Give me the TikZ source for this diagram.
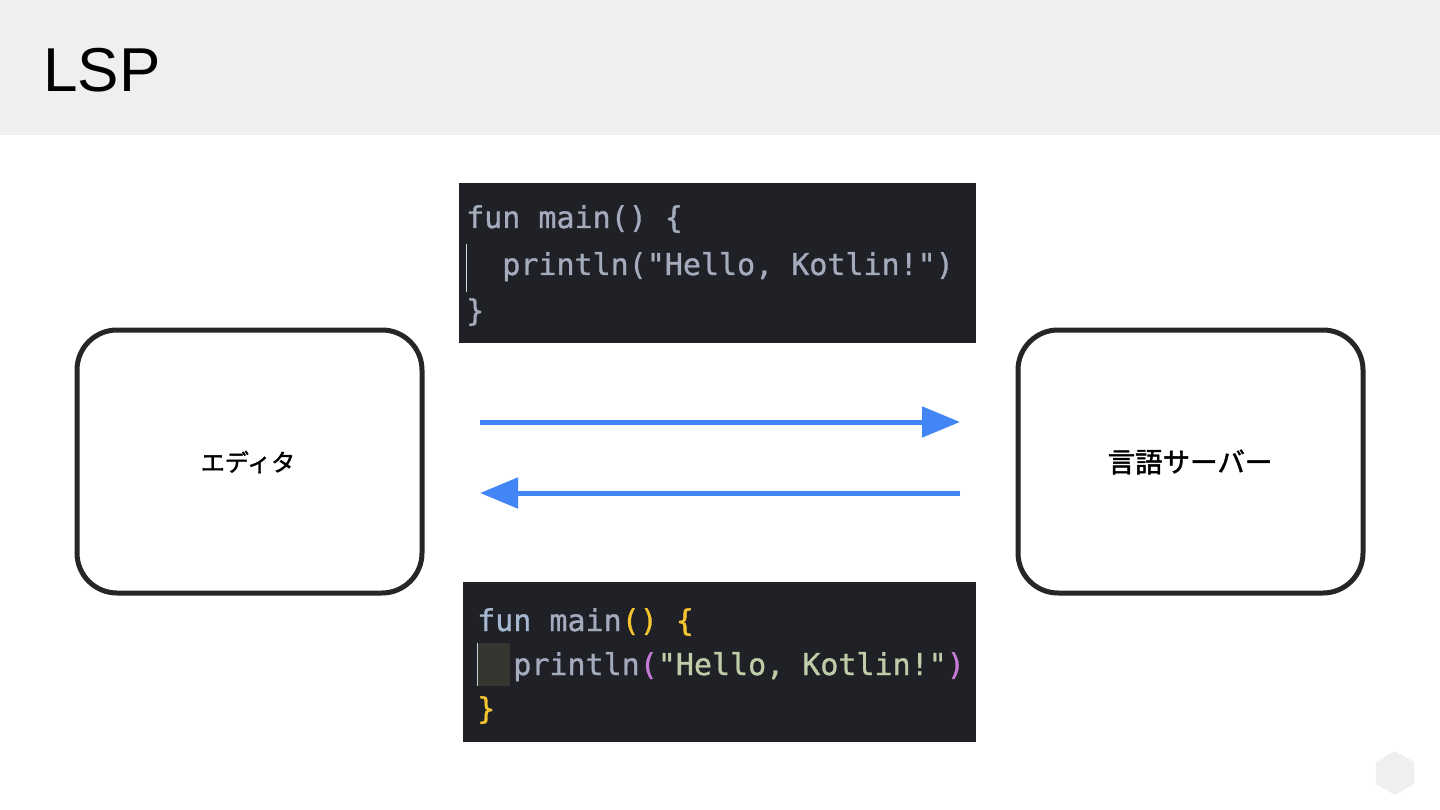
\documentclass[tikz,border=0pt]{standalone}
\usepackage{fontspec}
\setmainfont{Liberation Sans}
\newfontfamily\cjk[FakeBold=1.6]{Noto Sans CJK JP}
\newfontfamily\codefont[FakeBold=1]{DejaVu Sans Mono}
\usetikzlibrary{arrows.meta}

\definecolor{headgray}{HTML}{EFEFEF}
\definecolor{panel}{HTML}{1F2126}
\definecolor{codegray}{HTML}{A3ABBD}
\definecolor{codeblue}{HTML}{A6B7D0}
\definecolor{codeyellow}{HTML}{F5C431}
\definecolor{codepink}{HTML}{C77BD9}
\definecolor{codegreen}{HTML}{BFCCA8}
\definecolor{cursor}{HTML}{34372F}
\definecolor{arrowblue}{HTML}{4285F4}

\tikzset{
  box/.style={draw=black!85, line width=5pt, rounded corners=40pt},
  code/.style={anchor=base west, inner sep=0pt, font=\codefont\fontsize{30}{30}\selectfont, text=codegray},
  flow/.style={draw=arrowblue, line width=5pt, -{Triangle[length=38pt,width=30pt]}},
  label/.style={font=\cjk\fontsize{24}{24}\selectfont}
}

\begin{document}
\begin{tikzpicture}[x=1pt, y=-1pt]
        \useasboundingbox (0,0) rectangle (1440,810);
        \fill[white] (0,0) rectangle (1440,810);
        
        % header
        \fill[headgray] (0,0) rectangle (1440,135);
        \node[anchor=base west, inner sep=0pt, font=\fontsize{62}{62}\selectfont] (title) at (43,92) {LSP};
        
        % boxes
        \draw[box] (77,330) rectangle (422,593);
        \draw[box] (1018,330) rectangle (1363,593);
        \node[label] (editor) at (248,462) {エディタ};
        \node[label, font=\cjk\fontsize{27.5}{27.5}\selectfont] (server) at (1190,462) {言語サーバー};
        
        % code before
        \fill[panel] (459,183) rectangle (976,343);
        \draw[codegray!50, line width=1pt] (466,244) -- (466,292);
        \node[code] (top1) at (466,228) {fun main() \{};
        \node[code] (top2) at (466,275) {\ \ println("Hello, Kotlin!")};
        \node[code] (top3) at (466,321) {\}};
        
        % code after
        \fill[panel] (463,582) rectangle (976,742);
        \fill[cursor] (477,643) rectangle (510,686);
        \draw[codegray!60, line width=1pt] (477,643) -- (477,686);
        \node[code, text=codeblue] (bot1) at (477,631) {fun \textcolor{codegray}{main}\textcolor{codeyellow}{()} \textcolor{codeyellow}{\{}};
        \node[code] (bot2) at (477,675) {\ \ println\textcolor{codepink}{(}\textcolor{codegreen}{"Hello, Kotlin!"}\textcolor{codepink}{)}};
        \node[code, text=codeyellow] (bot3) at (477,719) {\}};
        
        % arrows
        \coordinate (req1) at (480,422);
        \coordinate (req2) at (960,422);
        \coordinate (res1) at (960,493);
        \coordinate (res2) at (480,493);
        \draw[flow] (req1) -- (req2);
        \draw[flow] (res1) -- (res2);
        
        % logo
        \fill[headgray] (1395,773) +(90:22) -- +(150:22) -- +(210:22) -- +(270:22) -- +(330:22) -- +(30:22) -- cycle;
    \end{tikzpicture}
\end{document}
